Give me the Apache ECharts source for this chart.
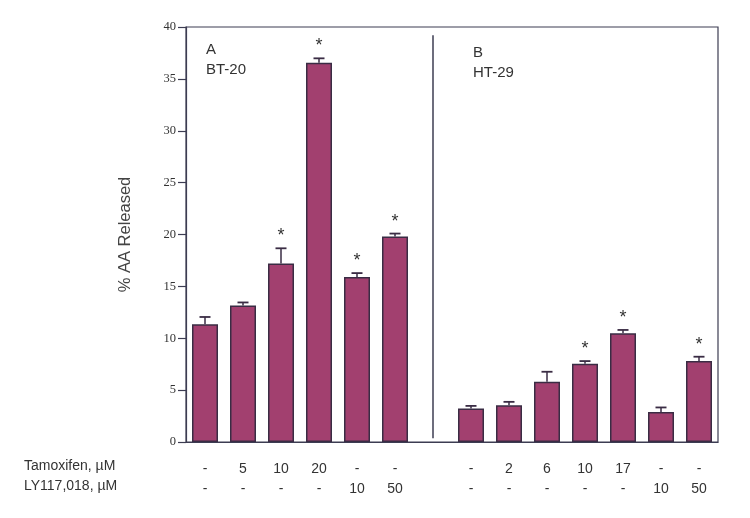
<!DOCTYPE html>
<html><head><meta charset="utf-8">
<script src="https://cdn.jsdelivr.net/npm/echarts@6/dist/echarts.min.js"></script>
<style>html,body{margin:0;padding:0;background:#fff}#c{width:750px;height:518px}</style>
</head><body><div id="c"></div>
<script>
// Categories: 6 BT-20 conditions, a gap (panel divider), 7 HT-29 conditions
var tamoxifen = ['-', '5', '10', '20', '-', '-', '', '-', '2', '6', '10', '17', '-', '-'];
var ly117018  = ['-', '-', '-', '-', '10', '50', '', '-', '-', '-', '-', '-', '10', '50'];
var values    = [11.35, 13.15, 17.2, 36.55, 15.9, 19.8, null, 3.23, 3.55, 5.8, 7.54, 10.48, 2.9, 7.8];
var errTops   = [12.05, 13.45, 18.67, 36.98, 16.28, 20.09, null, 3.48, 3.87, 6.77, 7.8, 10.8, 3.33, 8.22];
var signif    = [0, 0, 1, 1, 1, 1, 0, 0, 0, 0, 1, 1, 0, 1];
var yTicks    = [0, 5, 10, 15, 20, 25, 30, 35, 40];
var dividerIndex = 6;
var panelA = ['A', 'BT-20'];
var panelB = ['B', 'HT-29'];

var cats = tamoxifen.map(function (t, i) { return i; });
var lineColor = '#3c3c52';
var chart = echarts.init(document.getElementById('c'));
var errData = values.map(function (v, i) { return [i, v, errTops[i], signif[i]]; });

chart.setOption({
  animation: false,
  backgroundColor: '#fff',
  grid: { left: 186, top: 27, right: 32, bottom: 76, show: true, borderColor: lineColor, borderWidth: 1.2, backgroundColor: 'transparent' },
  xAxis: {
    type: 'category', data: cats,
    axisLine: { lineStyle: { color: lineColor, width: 1.2 } },
    axisTick: { alignWithLabel: true, length: 6, lineStyle: { color: lineColor, width: 1.2 } },
    axisLabel: {
      margin: 17, lineHeight: 20, fontFamily: 'Liberation Sans, Arial', fontSize: 14, color: '#333',
      formatter: function (v) { var i = +v; return tamoxifen[i] + '\n' + ly117018[i]; }
    }
  },
  yAxis: {
    type: 'value', min: yTicks[0], max: yTicks[yTicks.length - 1], interval: yTicks[1] - yTicks[0],
    name: '% AA Released', nameLocation: 'middle', nameGap: 52,
    nameTextStyle: { fontFamily: 'Liberation Sans, Arial', fontSize: 16.5, color: '#444' },
    splitLine: { show: false },
    axisLine: { show: true, lineStyle: { color: lineColor, width: 1.2 } },
    axisTick: { show: true, length: 8, lineStyle: { color: lineColor, width: 1.2 } },
    axisLabel: { margin: 10, fontFamily: 'Liberation Serif, Times New Roman', fontSize: 12.5, color: '#333' }
  },
  graphic: [
    { type: 'text', left: 24, top: 459, style: { text: 'Tamoxifen, µM', font: '14px "Liberation Sans", Arial', fill: '#333' } },
    { type: 'text', left: 24, top: 479, style: { text: 'LY117,018, µM', font: '14px "Liberation Sans", Arial', fill: '#333' } },
    { type: 'text', left: 206, top: 40, style: { text: panelA.join('\n'), font: '15px "Liberation Sans", Arial', fill: '#333', lineHeight: 20 } },
    { type: 'text', left: 473, top: 43, style: { text: panelB.join('\n'), font: '15px "Liberation Sans", Arial', fill: '#333', lineHeight: 20 } }
  ],
  series: [
    {
      type: 'bar', data: values.map(function (v) { return v == null ? '-' : v; }), barWidth: 26,
      itemStyle: { color: '#a2406f', borderColor: '#3a2c44', borderWidth: 1.5 },
      markLine: {
        symbol: 'none', silent: true, label: { show: false },
        lineStyle: { color: lineColor, width: 1.5, type: 'solid' },
        data: [[{ coord: [dividerIndex, 0.35] }, { coord: [dividerIndex, 39.2] }]]
      }
    },
    {
      type: 'custom', data: errData, z: 5,
      renderItem: function (params, api) {
        if (api.value(1) == null || isNaN(api.value(1))) return null;
        var x = api.value(0);
        var p0 = api.coord([x, api.value(1)]);
        var p1 = api.coord([x, api.value(2)]);
        var children = [
          { type: 'line', shape: { x1: p0[0], y1: p0[1], x2: p1[0], y2: p1[1] }, style: { stroke: '#3a2c44', lineWidth: 1.5 } },
          { type: 'line', shape: { x1: p1[0] - 5.5, y1: p1[1], x2: p1[0] + 5.5, y2: p1[1] }, style: { stroke: '#3a2c44', lineWidth: 1.8 } }
        ];
        if (api.value(3)) {
          children.push({ type: 'text', x: p1[0], y: p1[1] - 3, style: { text: '*', font: '18px "Liberation Sans", Arial', fill: '#333', align: 'center', verticalAlign: 'bottom' } });
        }
        return { type: 'group', children: children };
      }
    }
  ]
});
</script></body></html>
